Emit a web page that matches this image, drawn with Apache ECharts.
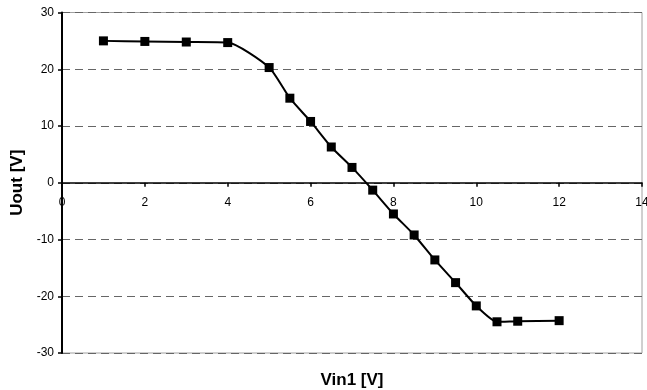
<!DOCTYPE html>
<html lang="en">
<head>
    <meta charset="UTF-8">
    <title>Uout vs Vin1</title>
    <script src="https://cdn.jsdelivr.net/npm/echarts@6/dist/echarts.min.js"></script>
    <style>
        body { margin: 0; background: #fff; }
    </style>
</head>
<body>
    <div id="main" style="width: 647px;height:390px;"></div>
    <script type="text/javascript">
        // measured points
        var vin = [1, 2, 3, 4, 5, 5.5, 6, 6.5, 7, 7.5, 8, 8.5, 9, 9.5, 10, 10.5, 11, 12];
        var uout = [25.0, 24.9, 24.8, 24.7, 20.3, 14.9, 10.8, 6.3, 2.7, -1.3, -5.5, -9.2, -13.6, -17.6, -21.7, -24.5, -24.4, -24.3];

        var points = [];
        for (var i = 0; i < vin.length; i++) {
            points.push([vin[i], uout[i]]);
        }

        var myChart = echarts.init(document.getElementById('main'));

        // x axis sits on y = 0, which is the middle of the grid
        var gridTop = 12.5, gridBottom = 37;
        var zeroShift = (390 - gridTop - gridBottom) / 2;

        var option = {
            animation: false,
            backgroundColor: '#fff',
            textStyle: { fontFamily: 'Liberation Sans, Arial, sans-serif' },
            grid: {
                left: 62, right: 5, top: gridTop, bottom: gridBottom,
                containLabel: false,
                outerBoundsMode: 'none',
                show: true, borderColor: '#a0a0a0', borderWidth: 1
            },
            xAxis: {
                type: 'value',
                min: 0, max: 14, interval: 2,
                offset: -zeroShift,
                name: 'Vin1 [V]',
                nameLocation: 'middle',
                nameGap: 189,
                nameTextStyle: { fontSize: 17, fontWeight: 'bold', color: '#000' },
                axisLine: { onZero: false, lineStyle: { color: '#000', width: 1.5 } },
                axisTick: { show: true, length: 4, lineStyle: { color: '#000', width: 1.5 } },
                axisLabel: { fontSize: 12, color: '#000', margin: 14 },
                splitLine: { show: false }
            },
            yAxis: {
                type: 'value',
                min: -30, max: 30, interval: 10,
                name: 'Uout [V]',
                nameLocation: 'middle',
                nameGap: 36,
                nameRotate: 90,
                nameTextStyle: { fontSize: 17, fontWeight: 'bold', color: '#000' },
                axisLine: { show: true, lineStyle: { color: '#000', width: 2 } },
                axisTick: { show: true, length: 4, lineStyle: { color: '#000', width: 1.5 } },
                axisLabel: { fontSize: 12, color: '#000', margin: 8 },
                splitLine: { show: true, lineStyle: { color: '#666', type: [8, 5], width: 1 } }
            },
            series: [{
                type: 'line',
                data: points,
                smooth: 0.2,
                symbol: 'rect',
                symbolSize: 9,
                itemStyle: { color: '#000' },
                lineStyle: { color: '#000', width: 2 }
            }]
        };
        myChart.setOption(option);
    </script>
</body>
</html>
